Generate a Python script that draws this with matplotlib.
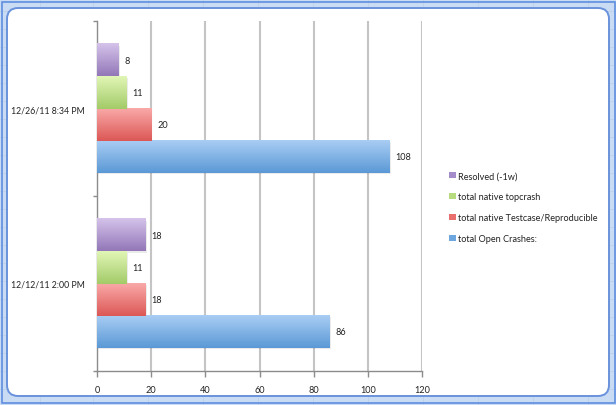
import matplotlib
matplotlib.use("Agg")
import matplotlib.pyplot as plt
import numpy as np
from matplotlib.colors import LinearSegmentedColormap
from matplotlib.patches import FancyBboxPatch, Rectangle

plt.rcParams['font.family'] = ['Lato', 'DejaVu Sans']

categories = ["12/12/11 2:00 PM", "12/26/11 8:34 PM"]
series_names = ["total Open Crashes:", "total native Testcase/Reproducible",
                "total native topcrash", "Resolved (-1w)"]
open_crashes = [86, 108]
testcase = [18, 20]
topcrash = [11, 11]
resolved = [18, 8]
series_values = [open_crashes, testcase, topcrash, resolved]
x_ticks = [0, 20, 40, 60, 80, 100, 120]

grad_top = ["#a9cdf4", "#f9a9a8", "#e1f6b6", "#d5c3ea"]
grad_bot = ["#5b99d6", "#dc5856", "#a3cb68", "#9377b8"]
legend_cols = ["#6ea6e0", "#e86f6d", "#b7dc80", "#a58ccb"]

W, H = 616, 406
fig = plt.figure(figsize=(W / 100, H / 100), dpi=100)
fig.patch.set_facecolor("#c9dcf3")

# spreadsheet-like faint lines in the frame
for xp in [40, 93, 148, 203, 258, 313, 368, 423, 478, 533, 588]:
    fig.add_artist(plt.Line2D([xp / W, xp / W], [0, 1], color="#bcd0ea", lw=0.5, zorder=0))
for yp in range(12, H, 18):
    fig.add_artist(plt.Line2D([0, 1], [1 - yp / H, 1 - yp / H], color="#bcd0ea", lw=0.5, zorder=0))

fig.add_artist(Rectangle((1.5 / W, 2.5 / H), (W - 3) / W, (H - 5) / H, transform=fig.transFigure,
                         facecolor="none", edgecolor="#5f8fe0", lw=1.2, zorder=1))
panel = FancyBboxPatch((7 / W, 9 / H), (W - 14) / W, (H - 18) / H,
                       boxstyle="round,pad=0,rounding_size=0.018",
                       transform=fig.transFigure, facecolor="white",
                       edgecolor="#6a92dc", lw=1.4, zorder=1, mutation_aspect=W / H)
fig.add_artist(panel)

ax = fig.add_axes([97 / W, 34 / H, 325 / W, 350 / H])
ax.set_facecolor("none")
ax.set_zorder(2)

n = len(series_values)
h = 0.1829
gap = (1 - n * h) / 2
ycat = np.arange(len(categories))

for i, vals in enumerate(series_values):
    ypos = ycat - 0.5 + gap + h * (i + 0.5)
    bars = ax.barh(ypos, vals, height=h, color=legend_cols[i], label=series_names[i], zorder=3,
                   linewidth=0)
    cmap = LinearSegmentedColormap.from_list("g%d" % i, [grad_bot[i], grad_top[i]])
    grad = np.linspace(0, 1, 64).reshape(-1, 1)
    for b, v in zip(bars, vals):
        x0, y0, bw, bh = b.get_x(), b.get_y(), b.get_width(), b.get_height()
        # light shadow
        ax.add_patch(Rectangle((x0 + 0.4, y0 - 0.006), bw, bh, facecolor="#000000",
                               alpha=0.08, zorder=2.5, lw=0))
        ax.imshow(grad, extent=[x0, x0 + bw, y0, y0 + bh], origin="lower", aspect="auto",
                  cmap=cmap, zorder=3.5, interpolation="bilinear")
        ax.text(x0 + bw + 2.2, y0 + bh / 2, str(v), va="center", ha="left",
                fontsize=6.6, color="#222222", zorder=5)

ax.set_xlim(0, 120)
ax.set_ylim(-0.5, len(categories) - 0.5)
ax.set_xticks(x_ticks)
ax.set_xticklabels([str(t) for t in x_ticks], fontsize=6.6, color="#222222")
ax.set_yticks(ycat)
ax.set_yticklabels(categories, fontsize=6.3, color="#222222")
ax.tick_params(axis="y", length=0, pad=9)
ax.set_yticks([-0.5, 0.5, 1.5], minor=True)
ax.tick_params(axis="y", which="minor", length=3, color="#8c8c8c", width=1)
ax.tick_params(axis="x", length=4, color="#8c8c8c", width=1, pad=6)
ax.grid(axis="x", color="#c4c4c4", lw=1.5, zorder=1)
ax.set_axisbelow(True)
for s in ["top", "right"]:
    ax.spines[s].set_visible(False)
for s in ["left", "bottom"]:
    ax.spines[s].set_color("#8c8c8c")
    ax.spines[s].set_linewidth(1)

handles, labels = ax.get_legend_handles_labels()
leg = fig.legend(handles[::-1], labels[::-1], loc="upper left",
                 bbox_to_anchor=(441 / W, 1 - 164 / H), frameon=False, fontsize=6.6,
                 handlelength=0.7, handleheight=0.7, handletextpad=0.25, labelspacing=1.3,
                 labelcolor="#222222")

fig.savefig("out.png", dpi=100, facecolor=fig.get_facecolor())
